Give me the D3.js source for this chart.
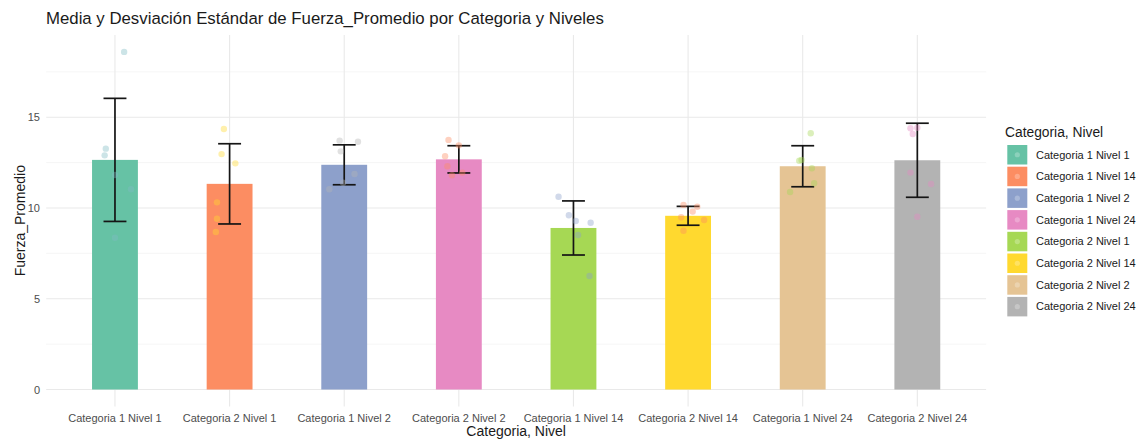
<!DOCTYPE html>
<html>
<head>
<meta charset="utf-8">
<script src="https://cdn.jsdelivr.net/npm/d3@7/dist/d3.min.js"></script>
<style>
  html, body { margin: 0; padding: 0; background: #ffffff; }
  svg { display: block; font-family: "Liberation Sans", Arial, sans-serif; }
</style>
</head>
<body>
<svg id="chart" width="1141" height="441"></svg>
<script>
// Groups along the x axis, in plotting order
const categories = [
  "Categoria 1 Nivel 1", "Categoria 2 Nivel 1",
  "Categoria 1 Nivel 2", "Categoria 2 Nivel 2",
  "Categoria 1 Nivel 14", "Categoria 2 Nivel 14",
  "Categoria 1 Nivel 24", "Categoria 2 Nivel 24"
];

// Mean and standard deviation of Fuerza_Promedio per group
const means = [12.65, 11.33, 12.38, 12.68, 8.90, 9.57, 12.30, 12.63];
const sds   = [3.39, 2.21, 1.10, 0.75, 1.49, 0.52, 1.13, 2.04];

// Individual observations per group
const observations = [
  [18.60, 13.27, 12.90, 11.82, 11.03, 8.36],
  [14.35, 12.97, 12.46, 10.31, 9.41, 8.68],
  [13.71, 13.12, 13.65, 11.87, 11.39, 11.03],
  [13.75, 13.45, 12.85, 12.30, 11.95, 11.80],
  [10.62, 9.60, 9.28, 9.19, 8.51, 6.25],
  [10.17, 10.07, 9.80, 9.49, 9.34, 8.75],
  [14.12, 12.65, 12.60, 12.19, 11.36, 10.88],
  [14.42, 14.39, 14.08, 11.95, 11.32, 9.52]
];
// Horizontal jitter of each observation, as a fraction of the category step
const jitter = [
  [0.08, -0.08, -0.09, 0.00, 0.14, 0.00],
  [-0.05, -0.07, 0.05, -0.11, -0.11, -0.12],
  [-0.04, -0.03, 0.12, 0.09, -0.01, -0.13],
  [-0.09, 0.00, -0.12, -0.10, 0.03, -0.06],
  [-0.13, -0.04, 0.02, 0.15, 0.04, 0.14],
  [-0.04, 0.08, 0.04, -0.06, 0.14, -0.04],
  [0.07, -0.01, -0.03, 0.08, 0.10, -0.11],
  [0.00, -0.06, -0.04, -0.06, 0.12, 0.00]
];

// Legend entries
const legendLabels = [
  "Categoria 1 Nivel 1", "Categoria 1 Nivel 14", "Categoria 1 Nivel 2", "Categoria 1 Nivel 24",
  "Categoria 2 Nivel 1", "Categoria 2 Nivel 14", "Categoria 2 Nivel 2", "Categoria 2 Nivel 24"
];

const yTicks = [0, 5, 10, 15];
const yMinorTicks = [2.5, 7.5, 12.5, 17.5];

// Brewer Set2
const set2 = ["#66c2a5", "#fc8d62", "#8da0cb", "#e78ac3", "#a6d854", "#ffd92f", "#e5c494", "#b3b3b3"];
// Point colours for each group of observations
const pointColors = ["#7fbcc4", "#ffd92f", "#b3b3b3", "#fc8d62", "#8da0cb", "#fc8d62", "#a6d854", "#e78ac3"];

const svg = d3.select("#chart");
const W = 1141, H = 441;
svg.append("rect").attr("width", W).attr("height", H).attr("fill", "#ffffff");

const panel = { left: 46.2, right: 986.1, top: 35, bottom: 406.4 };

const x = d3.scalePoint()
  .domain(categories)
  .range([panel.left, panel.right])
  .padding(0.6);
const step = x.step();

const y = d3.scaleLinear()
  .domain([-0.93, 19.53])
  .range([panel.bottom, panel.top]);

const g = svg.append("g");

// Grid lines
g.append("g").selectAll("line").data(yMinorTicks).join("line")
  .attr("x1", panel.left).attr("x2", panel.right)
  .attr("y1", d => y(d)).attr("y2", d => y(d))
  .attr("stroke", "#f0f0f0").attr("stroke-width", 0.7);
g.append("g").selectAll("line").data(yTicks).join("line")
  .attr("x1", panel.left).attr("x2", panel.right)
  .attr("y1", d => y(d)).attr("y2", d => y(d))
  .attr("stroke", "#e9e9e9").attr("stroke-width", 1.1);
g.append("g").selectAll("line").data(categories).join("line")
  .attr("x1", d => x(d)).attr("x2", d => x(d))
  .attr("y1", panel.top).attr("y2", panel.bottom)
  .attr("stroke", "#e9e9e9").attr("stroke-width", 1.1);

// Bars
const barW = step * 0.4;
g.append("g").selectAll("rect").data(categories).join("rect")
  .attr("x", d => x(d) - barW / 2)
  .attr("width", barW)
  .attr("y", (d, i) => y(means[i]))
  .attr("height", (d, i) => y(0) - y(means[i]))
  .attr("fill", (d, i) => set2[i]);

// Error bars (mean ± sd)
const capW = step * 0.2;
const eb = g.append("g").attr("stroke", "#151515").attr("stroke-width", 1.7).attr("fill", "none");
categories.forEach((c, i) => {
  const cx = x(c), hi = y(means[i] + sds[i]), lo = y(means[i] - sds[i]);
  eb.append("line").attr("x1", cx).attr("x2", cx).attr("y1", hi).attr("y2", lo);
  eb.append("line").attr("x1", cx - capW / 2).attr("x2", cx + capW / 2).attr("y1", hi).attr("y2", hi);
  eb.append("line").attr("x1", cx - capW / 2).attr("x2", cx + capW / 2).attr("y1", lo).attr("y2", lo);
});

// Jittered observations
const pts = [];
observations.forEach((vals, i) => vals.forEach((v, j) => pts.push({ i, v, dx: jitter[i][j] })));
g.append("g").selectAll("circle").data(pts).join("circle")
  .attr("cx", d => x(categories[d.i]) + d.dx * step)
  .attr("cy", d => y(d.v))
  .attr("r", 3.2)
  .attr("fill", d => pointColors[d.i])
  .attr("fill-opacity", 0.4);

// Axes labels
const tickColor = "#4d4d4d";
g.append("g").selectAll("text").data(yTicks).join("text")
  .attr("x", 40).attr("y", d => y(d) + 4)
  .attr("text-anchor", "end")
  .attr("font-size", 11).attr("fill", tickColor)
  .text(d => d);

g.append("g").selectAll("text").data(categories).join("text")
  .attr("x", d => x(d)).attr("y", 421.5)
  .attr("text-anchor", "middle")
  .attr("font-size", 11).attr("fill", tickColor)
  .text(d => d);

svg.append("text")
  .attr("x", (panel.left + panel.right) / 2).attr("y", 436)
  .attr("text-anchor", "middle").attr("font-size", 14).attr("fill", "#1a1a1a")
  .text("Categoria, Nivel");

svg.append("text")
  .attr("transform", `translate(24.5,${(panel.top + panel.bottom) / 2}) rotate(-90)`)
  .attr("text-anchor", "middle").attr("font-size", 14).attr("fill", "#1a1a1a")
  .text("Fuerza_Promedio");

svg.append("text")
  .attr("x", 46).attr("y", 24)
  .attr("font-size", 16.8).attr("fill", "#1a1a1a")
  .text("Media y Desviación Estándar de Fuerza_Promedio por Categoria y Niveles");

// Legend
const lg = svg.append("g").attr("transform", "translate(1005,0)");
lg.append("text").attr("x", 0).attr("y", 136.5)
  .attr("font-size", 13.8).attr("fill", "#1a1a1a")
  .text("Categoria, Nivel");
const keyStep = 21.7, keyTop = 145;
const items = lg.selectAll("g.item").data(legendLabels).join("g")
  .attr("class", "item")
  .attr("transform", (d, i) => `translate(0,${keyTop + i * keyStep})`);
items.append("rect")
  .attr("x", 2.3).attr("y", 0).attr("width", 20).attr("height", 19.5)
  .attr("fill", (d, i) => set2[i]);
items.append("circle")
  .attr("cx", 12.3).attr("cy", 9.75).attr("r", 2.6)
  .attr("fill", "#ffffff").attr("fill-opacity", 0.25);
items.append("text")
  .attr("x", 31).attr("y", 13.6)
  .attr("font-size", 11).attr("fill", "#1a1a1a")
  .text(d => d);
</script>
</body>
</html>
